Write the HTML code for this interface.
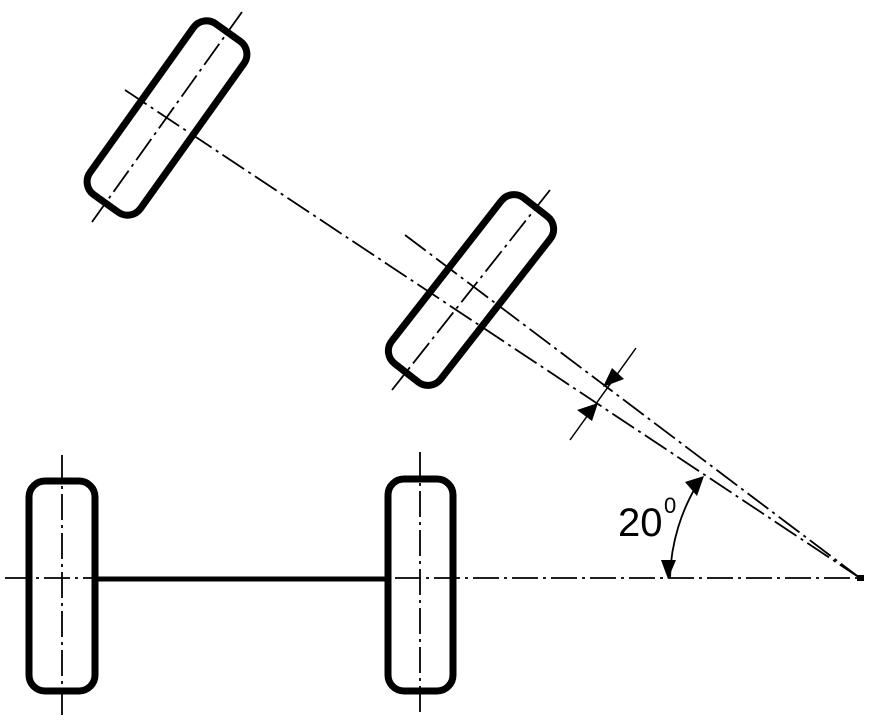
<!DOCTYPE html>
<html><head><style>body{margin:0;background:#fff}svg{display:block}</style></head><body>
<svg width="872" height="728" viewBox="0 0 872 728" xmlns="http://www.w3.org/2000/svg">
<g fill="none" stroke="#000">
<g stroke-width="1.8" stroke-dasharray="26,5,3,5">
<line x1="5" y1="578" x2="860" y2="578"/>
<line x1="62" y1="455" x2="62" y2="715"/>
<line x1="420" y1="452" x2="420" y2="715"/>
<line x1="125" y1="90" x2="860" y2="578"/>
<line x1="405" y1="235" x2="860" y2="578"/>
<line x1="242" y1="12" x2="92" y2="222"/>
<line x1="550" y1="190" x2="392" y2="390"/>
</g>
<rect x="29" y="481" width="66" height="210" rx="16" stroke-width="7"/>
<rect x="388" y="479" width="65" height="212" rx="16" stroke-width="7"/>
<line x1="96" y1="579" x2="387" y2="579" stroke-width="5"/>
<rect x="-31" y="-105" width="62" height="210" rx="16" stroke-width="7" transform="translate(167,118) rotate(35.5)"/>
<rect x="-31" y="-105" width="62" height="210" rx="16" stroke-width="7" transform="translate(471,290) rotate(38)"/>
<line x1="636" y1="348" x2="570" y2="440" stroke-width="1.5"/>
<path d="M670 578 A190 190 0 0 1 700 480" stroke-width="1.8"/>
</g>
<g fill="#000">
<polygon points="603,387 612,368 624,379"/>
<polygon points="598,403 577,410 592,421"/>
<polygon points="668,579 661,560 676,560"/>
<polygon points="704,476 685,482 697,496"/>
<rect x="857" y="575" width="7" height="6"/>
</g>
<text x="618" y="536" font-family="Liberation Sans, sans-serif" font-size="40" fill="#000">20</text>
<text x="664" y="513" font-family="Liberation Sans, sans-serif" font-size="22" fill="#000">0</text>
</svg>
</body></html>
